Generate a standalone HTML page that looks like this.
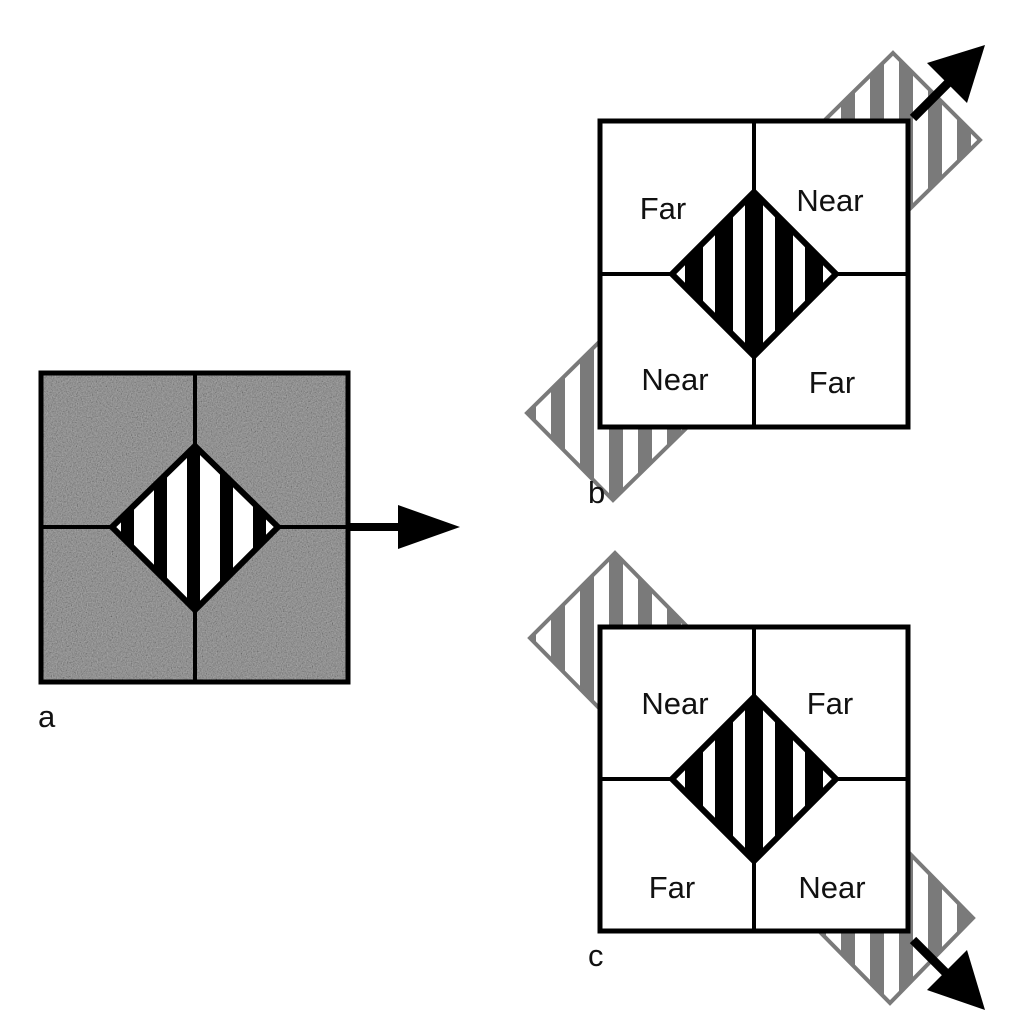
<!DOCTYPE html>
<html><head><meta charset="utf-8"><style>html,body{margin:0;padding:0;background:#fff}svg{display:block}text{font-family:"Liberation Sans",sans-serif;fill:#111}</style></head>
<body>
<svg width="1027" height="1034" viewBox="0 0 1027 1034" xmlns="http://www.w3.org/2000/svg">
<defs>
<filter id="grain" x="0" y="0" width="100%" height="100%" filterUnits="objectBoundingBox"><feTurbulence type="fractalNoise" baseFrequency="0.8" numOctaves="2" seed="5" result="t"/>
<feColorMatrix in="t" type="matrix" values="0.33 0.33 0.33 0 0  0.33 0.33 0.33 0 0  0.33 0.33 0.33 0 0  0 0 0 0 1" result="g"/>
<feComponentTransfer in="g"><feFuncR type="linear" slope="2.2" intercept="-0.6"/><feFuncG type="linear" slope="2.2" intercept="-0.6"/><feFuncB type="linear" slope="2.2" intercept="-0.6"/></feComponentTransfer>
</filter>
<pattern id="sa" patternUnits="userSpaceOnUse" x="187" y="0" width="33" height="10"><rect width="33" height="10" fill="#fff"/><rect width="13" height="10" fill="#000"/></pattern>
<pattern id="sb" patternUnits="userSpaceOnUse" x="745" y="0" width="30" height="10"><rect width="30" height="10" fill="#fff"/><rect width="18" height="10" fill="#000"/></pattern>
<pattern id="sg" patternUnits="userSpaceOnUse" x="0" y="0" width="29" height="10"><rect width="29" height="10" fill="#fff"/><rect width="14" height="10" fill="#7a7a7a"/></pattern>
</defs>

<!-- Panel a -->
<rect x="41" y="373" width="307" height="309" fill="#7c7c7c"/>
<rect x="41" y="373" width="307" height="309" filter="url(#grain)" opacity="0.35"/>
<rect x="41" y="373" width="307" height="309" fill="none" stroke="#000" stroke-width="5"/>
<line x1="195" y1="373" x2="195" y2="682" stroke="#000" stroke-width="4"/>
<line x1="41" y1="527" x2="348" y2="527" stroke="#000" stroke-width="4"/>
<polygon points="195,446 278,527 195,610 112,527" fill="url(#sa)" stroke="#000" stroke-width="6" stroke-linejoin="miter"/>
<line x1="348" y1="527" x2="402" y2="527" stroke="#000" stroke-width="8"/>
<polygon points="398,505 460,527 398,549" fill="#000"/>
<text x="38" y="727" font-size="31">a</text>

<!-- Panel b -->
<polygon points="893,53 980,140 613,500 527,413" fill="url(#sg)" stroke="#7a7a7a" stroke-width="4"/>
<rect x="600" y="121" width="308" height="306" fill="#fff" stroke="#000" stroke-width="5"/>
<line x1="754" y1="121" x2="754" y2="427" stroke="#000" stroke-width="4"/>
<line x1="600" y1="274" x2="908" y2="274" stroke="#000" stroke-width="4"/>
<polygon points="754,192 836,274 754,356 672,274" fill="url(#sb)" stroke="#000" stroke-width="6"/>
<text x="663" y="219" font-size="31" text-anchor="middle">Far</text>
<text x="830" y="211" font-size="31" text-anchor="middle">Near</text>
<text x="675" y="390" font-size="31" text-anchor="middle">Near</text>
<text x="832" y="393" font-size="31" text-anchor="middle">Far</text>
<line x1="913" y1="118" x2="950" y2="81" stroke="#000" stroke-width="9"/>
<polygon points="985,45 967,103 927,63" fill="#000"/>
<text x="588" y="503" font-size="31">b</text>

<!-- Panel c -->
<polygon points="615,553 973,918 890,1003 530,638" fill="url(#sg)" stroke="#7a7a7a" stroke-width="4"/>
<rect x="600" y="627" width="308" height="304" fill="#fff" stroke="#000" stroke-width="5"/>
<line x1="754" y1="627" x2="754" y2="931" stroke="#000" stroke-width="4"/>
<line x1="600" y1="779" x2="908" y2="779" stroke="#000" stroke-width="4"/>
<polygon points="754,697 836,779 754,861 672,779" fill="url(#sb)" stroke="#000" stroke-width="6"/>
<text x="675" y="714" font-size="31" text-anchor="middle">Near</text>
<text x="830" y="714" font-size="31" text-anchor="middle">Far</text>
<text x="672" y="898" font-size="31" text-anchor="middle">Far</text>
<text x="832" y="898" font-size="31" text-anchor="middle">Near</text>
<line x1="913" y1="940" x2="950" y2="977" stroke="#000" stroke-width="9"/>
<polygon points="985,1010 927,990 967,950" fill="#000"/>
<text x="588" y="966" font-size="31">c</text>
</svg>
</body></html>
